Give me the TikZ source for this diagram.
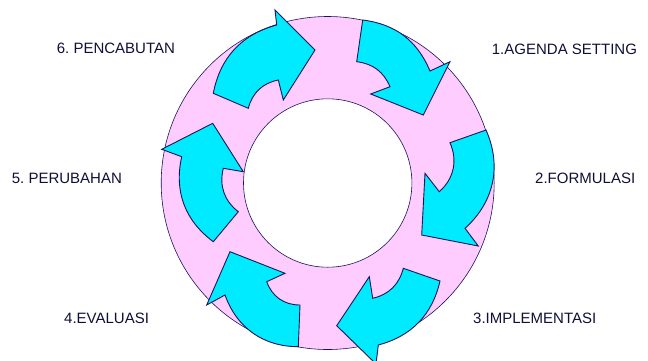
\documentclass[tikz,border=0pt]{standalone}
\usepackage{fontspec}
\setmainfont{Liberation Sans}
\definecolor{ringpink}{RGB}{255,204,255}
\definecolor{arrowcyan}{RGB}{0,235,255}
\definecolor{edgenavy}{RGB}{25,20,90}
\definecolor{labelnavy}{RGB}{15,15,55}
\frenchspacing
\begin{document}
\begin{tikzpicture}[x=1pt,y=-1pt,
		cyclearrow/.style={fill=arrowcyan,draw=edgenavy,line width=0.9pt,line join=miter},
		ringlabel/.style={anchor=west,inner sep=0pt,text=labelnavy,font=\fontsize{15}{18}\selectfont}]
			\useasboundingbox (0,0) rectangle (648,360);
			\coordinate (pusat) at (327.7,183);
			\filldraw[fill=ringpink,draw=edgenavy,line width=0.6pt] (pusat) circle[radius=166.5];
			\filldraw[fill=white,draw=edgenavy,line width=0.6pt] (pusat) circle[radius=84.2];
			
			\filldraw[cyclearrow] (362.7,20) to[bend left=30] (430,71) -- (450,61.7) -- (423.3,115)
			-- (370.7,94) -- (390,86.7) to[bend right=30] (356.7,61.7) -- cycle;
			
			\filldraw[cyclearrow] (486,130) to[bend left=36] (465,228.3) -- (478.3,246) -- (421.7,235)
			-- (425,173.3) -- (439.3,191.7) to[bend right=36] (450,142.7) -- cycle;
			
			\filldraw[cyclearrow] (440,281) to[bend left=31] (378.3,345) -- (376,364) -- (336.7,325.7)
			-- (369.3,276.7) -- (372.7,298.3) to[bend right=31] (403.3,268.3) -- cycle;
			
			\filldraw[cyclearrow] (298.3,346.7) to[bend left=35] (225,295) -- (206.7,305) -- (230,251.7)
			-- (285,273.3) -- (266.7,281.7) to[bend right=35] (300,305) -- cycle;
			
			\filldraw[cyclearrow] (213.3,241.7) to[bend left=33] (181.7,156.7) -- (161.7,149.3) -- (212.7,123.3)
			-- (243.3,171.7) -- (223.3,168.3) to[bend right=33] (238.3,211.7) -- cycle;
			
			\filldraw[cyclearrow] (213.3,93.3) to[bend left=32] (276.7,25) -- (275,10) -- (315,50)
			-- (283.3,100) -- (278.3,80) to[bend right=32] (248.3,108.3) -- cycle;
			
			\node[ringlabel] (agenda) at (491.7,49) {1.AGENDA SETTING};
			\node[ringlabel] (formulasi) at (535,178) {2.FORMULASI};
			\node[ringlabel] (implementasi) at (473,318) {3.IMPLEMENTASI};
			\node[ringlabel] (evaluasi) at (64,318) {4.EVALUASI};
			\node[ringlabel] (perubahan) at (11.7,178) {5. PERUBAHAN};
			\node[ringlabel] (pencabutan) at (56.7,48) {6. PENCABUTAN};
		\end{tikzpicture}
\end{document}
